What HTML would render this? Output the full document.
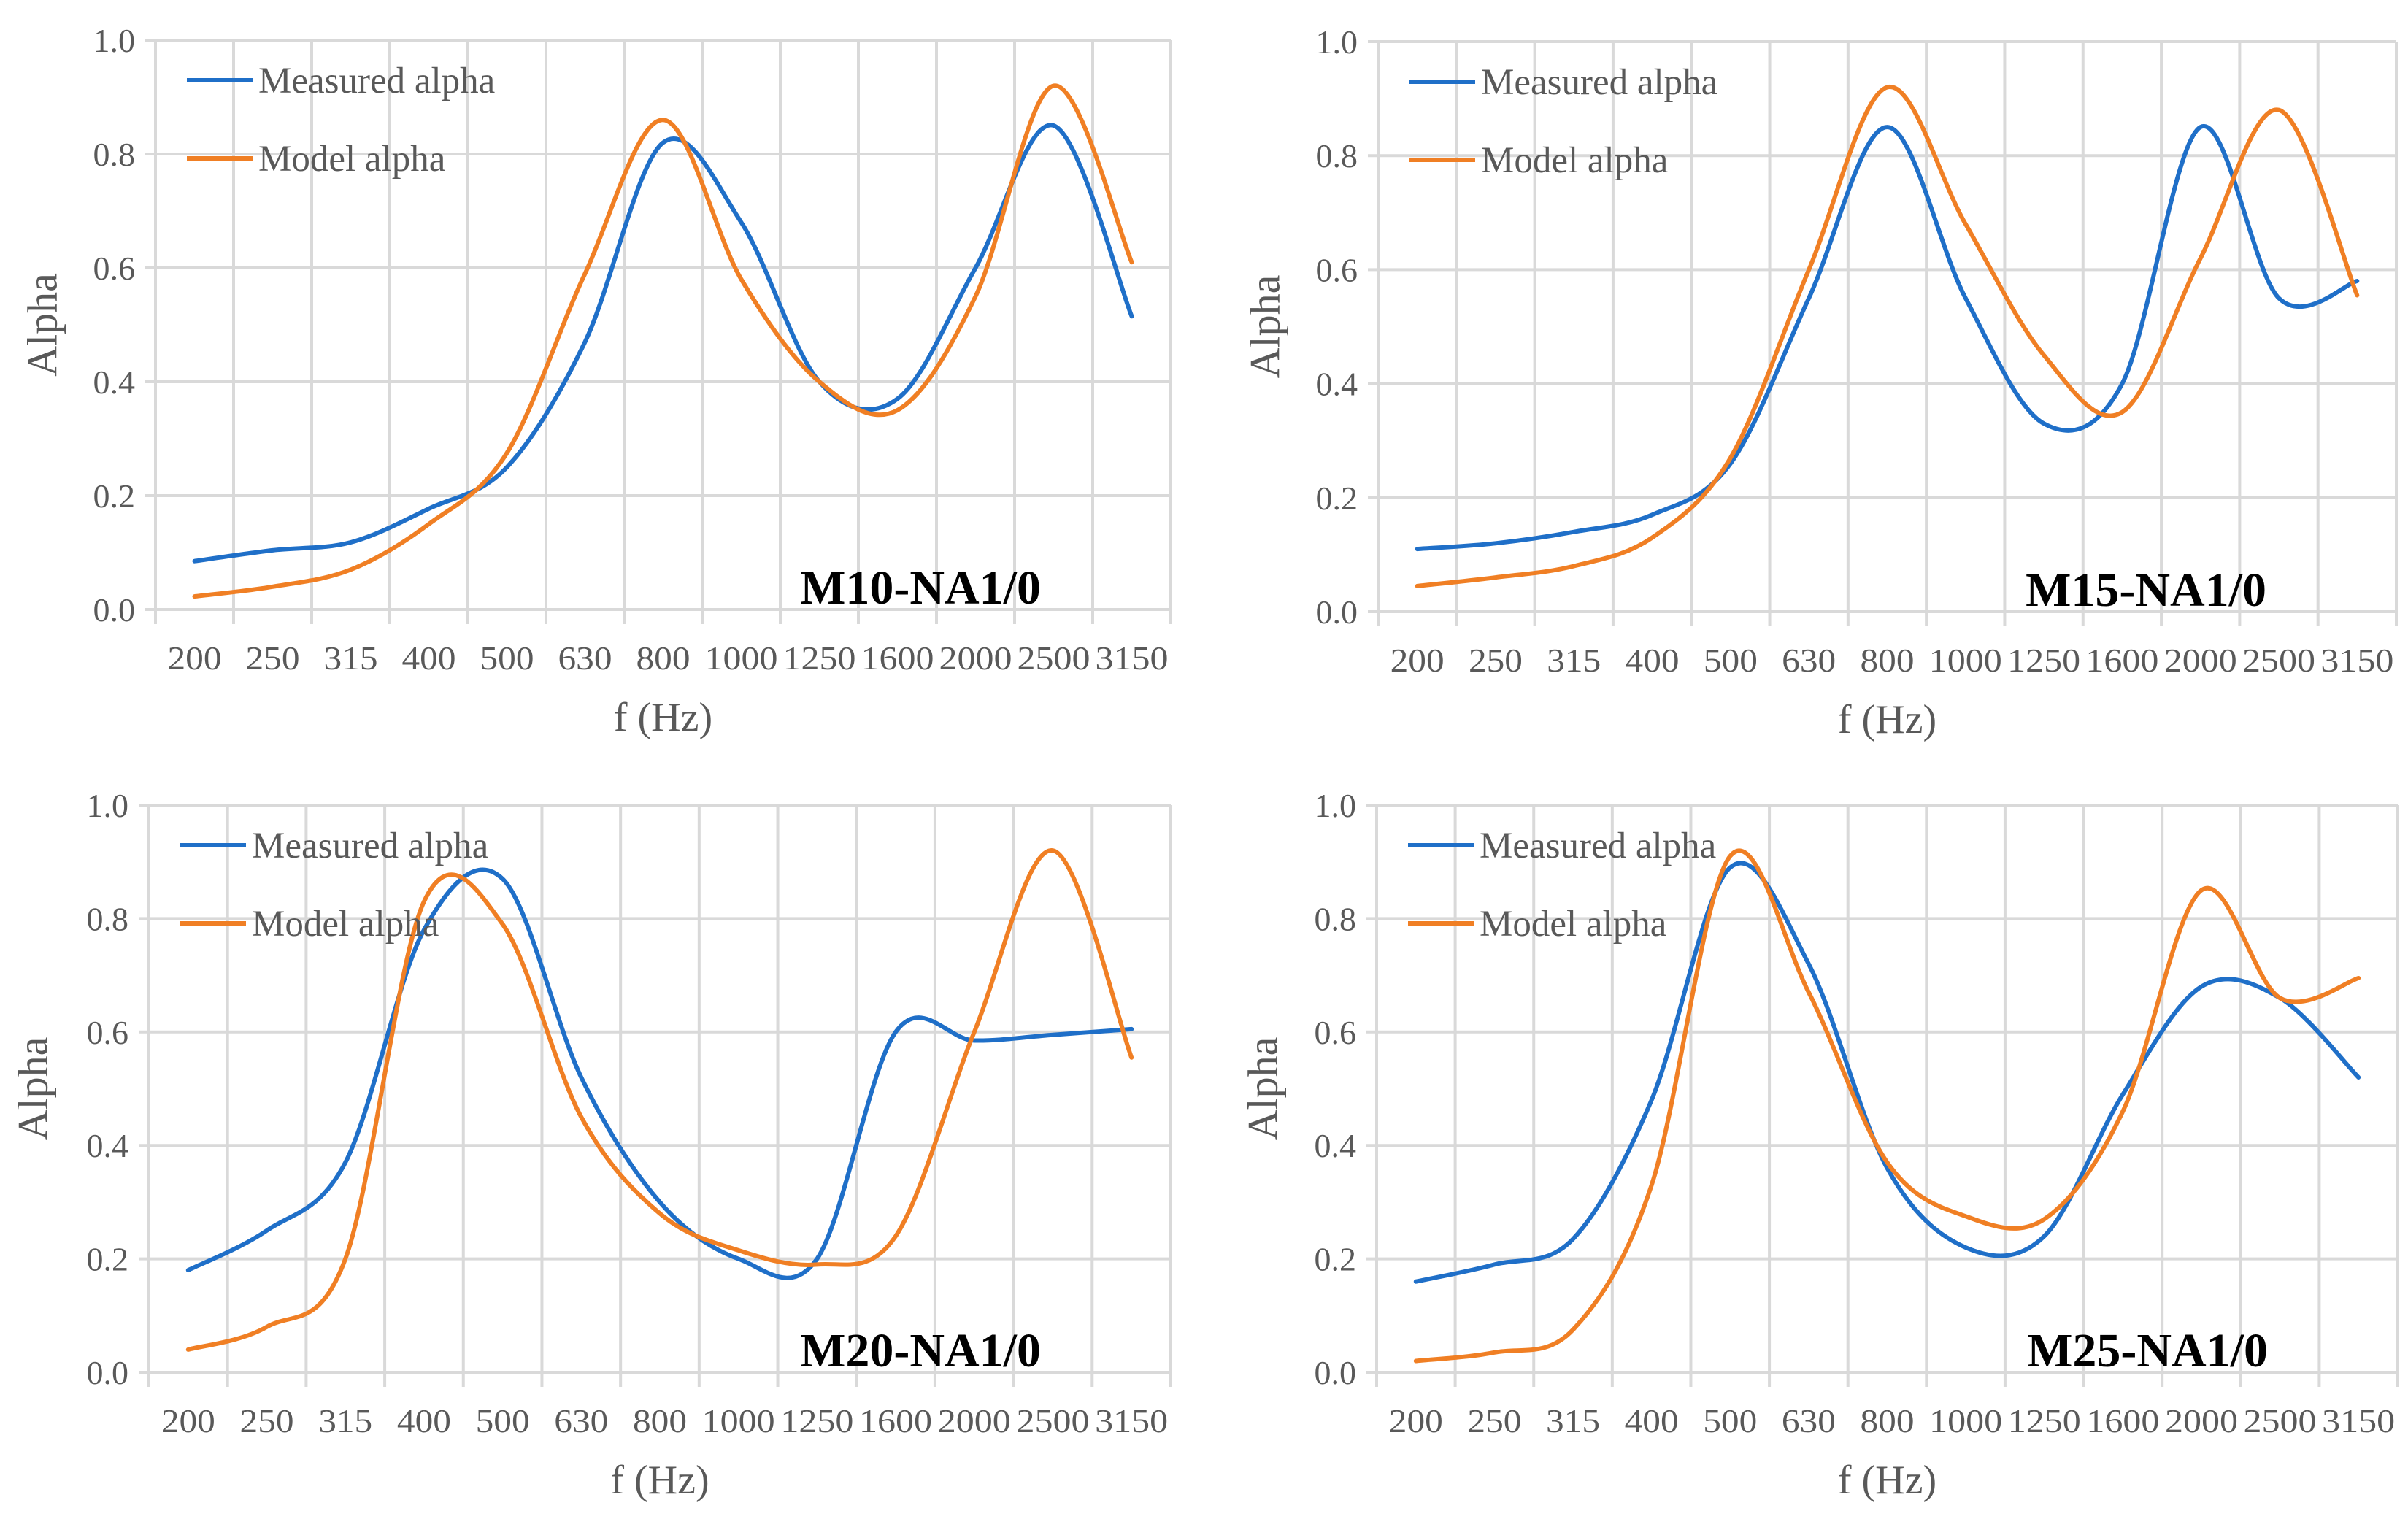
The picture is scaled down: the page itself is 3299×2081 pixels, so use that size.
<!DOCTYPE html>
<html><head><meta charset="utf-8"><style>
html,body{margin:0;padding:0;background:#fff}
svg{display:block}
text{font-family:"Liberation Serif",serif}
</style></head><body>
<svg id="root" width="3299" height="2081" viewBox="0 0 3299 2081"></svg>
<script>
const categories=["200","250","315","400","500","630","800","1000","1250","1600","2000","2500","3150"];
const yTicks=[0,0.2,0.4,0.6,0.8,1.0];
const yTickLabels=["0.0","0.2","0.4","0.6","0.8","1.0"];
const panelTitles=["M10-NA1/0","M15-NA1/0","M20-NA1/0","M25-NA1/0"];
const m10Measured=[0.085,0.104,0.118,0.177,0.25,0.47,0.82,0.68,0.40,0.37,0.60,0.85,0.515];
const m10Model=[0.023,0.04,0.07,0.15,0.275,0.59,0.86,0.58,0.40,0.35,0.55,0.92,0.61];
const m15Measured=[0.11,0.12,0.14,0.17,0.26,0.55,0.85,0.55,0.33,0.40,0.85,0.55,0.58];
const m15Model=[0.045,0.06,0.08,0.13,0.27,0.60,0.92,0.68,0.45,0.35,0.62,0.88,0.555];
const m20Measured=[0.18,0.25,0.37,0.78,0.87,0.52,0.30,0.20,0.20,0.60,0.585,0.595,0.605];
const m20Model=[0.04,0.08,0.20,0.83,0.79,0.45,0.28,0.215,0.19,0.24,0.60,0.92,0.555];
const m25Measured=[0.16,0.19,0.235,0.48,0.89,0.72,0.36,0.22,0.24,0.49,0.68,0.66,0.52];
const m25Model=[0.02,0.035,0.075,0.33,0.91,0.67,0.37,0.275,0.27,0.46,0.85,0.66,0.695];

const NS="http://www.w3.org/2000/svg";
const root=document.getElementById('root');
function mk(tag,attrs,parent){const e=document.createElementNS(NS,tag);for(const k in attrs)e.setAttribute(k,attrs[k]);(parent||root).appendChild(e);return e;}

const panels=[
 {L:213,R:1604,T:55,B:835,meas:m10Measured,mod:m10Model,title:panelTitles[0],ytx:58},
 {L:1888,R:3283,T:57,B:838,meas:m15Measured,mod:m15Model,title:panelTitles[1],ytx:1733},
 {L:204,R:1604,T:1103,B:1880,meas:m20Measured,mod:m20Model,title:panelTitles[2],ytx:45},
 {L:1886,R:3285,T:1103,B:1880,meas:m25Measured,mod:m25Model,title:panelTitles[3],ytx:1730}
];

function smoothPath(pts){
 let d="M"+pts[0][0].toFixed(1)+","+pts[0][1].toFixed(1);
 for(let i=0;i<pts.length-1;i++){
  const p0=pts[Math.max(0,i-1)],p1=pts[i],p2=pts[i+1],p3=pts[Math.min(pts.length-1,i+2)];
  const c1x=p1[0]+(p2[0]-p0[0])/6,c1y=p1[1]+(p2[1]-p0[1])/6;
  const c2x=p2[0]-(p3[0]-p1[0])/6,c2y=p2[1]-(p3[1]-p1[1])/6;
  d+=" C"+c1x.toFixed(1)+","+c1y.toFixed(1)+" "+c2x.toFixed(1)+","+c2y.toFixed(1)+" "+p2[0].toFixed(1)+","+p2[1].toFixed(1);
 }
 return d;
}

panels.forEach((p,pi)=>{
 const g=mk('g',{});
 
 
 const n=categories.length, step=(p.R-p.L)/n;
 const xs=i=>p.L+step*(i+0.5);
 const ys=v=>p.B-(p.B-p.T)*v;
 yTicks.forEach((t,i)=>{
  const l=mk('line',{x1:p.L-14,x2:p.R,y1:ys(t),y2:ys(t),stroke:'#d9d9d9','stroke-width':4},g);
  
  
  const tx=mk('text',{x:p.L-28,y:ys(t)+16,'text-anchor':'end','font-size':46,fill:'#595959'},g);
  
  
  tx.textContent=yTickLabels[i];
 });
 for(let i=0;i<=n;i++){
  const x=p.L+step*i;
  const l=mk('line',{x1:x,x2:x,y1:p.T,y2:p.B+20,stroke:'#d9d9d9','stroke-width':4},g);
  
  
 }
 categories.forEach((c,i)=>{
  const tx=mk('text',{x:xs(i),y:p.B+82,'text-anchor':'middle','font-size':46,fill:'#595959',textLength:c.length>3?100:74,lengthAdjust:'spacingAndGlyphs'},g);
  
  
  tx.textContent=c;
 });
 const xt=mk('text',{x:(p.L+p.R)/2,y:p.B+166,'text-anchor':'middle','font-size':56,fill:'#595959'},g);
 
 
 xt.textContent='f (Hz)';
 const cy=(p.T+p.B)/2;
 const yt=mk('text',{x:p.ytx,y:cy,'text-anchor':'middle','font-size':58,fill:'#595959',transform:'rotate(-90 '+p.ytx+' '+cy+')','dominant-baseline':'central'},g);
 
 
 yt.textContent='Alpha';
 const series=[[p.meas,'#1f6fc8','measured-alpha-line'],[p.mod,'#f07f24','model-alpha-line']];
 series.forEach(s=>{
  const pts=s[0].map((v,i)=>[xs(i),ys(v)]);
  const path=mk('path',{d:smoothPath(pts),fill:'none',stroke:s[1],'stroke-width':6,'stroke-linejoin':'round','stroke-linecap':'round'},g);
  
  
 });
 const leg=[['Measured alpha','#1f6fc8',55],['Model alpha','#f07f24',162]];
 leg.forEach(e=>{
  const lg=mk('g',{},g);
  
  
  mk('line',{x1:p.L+43,x2:p.L+133,y1:p.T+e[2],y2:p.T+e[2],stroke:e[1],'stroke-width':6},lg);
  const t=mk('text',{x:p.L+141,y:p.T+e[2]+17,'font-size':51,fill:'#595959'},lg);
  t.textContent=e[0];
 });
 const pt=mk('text',{x:p.R-178,y:p.B-8,'text-anchor':'end','font-size':66,'font-weight':'bold',fill:'#000'},g);
 
 
 pt.textContent=p.title;
});
</script>
</body></html>
